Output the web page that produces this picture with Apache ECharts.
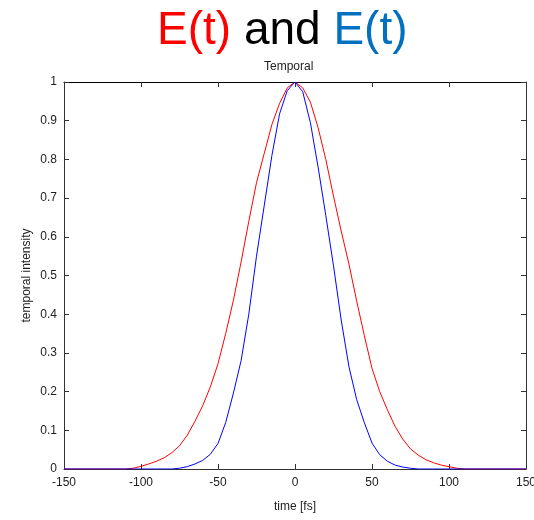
<!DOCTYPE html>
<html>
<head>
<meta charset="utf-8">
<script src="https://cdn.jsdelivr.net/npm/echarts@6/dist/echarts.min.js"></script>
<style>
  html, body { margin: 0; padding: 0; background: #fff; }
  #chart { width: 534px; height: 520px; }
</style>
</head>
<body>
<div id="chart"></div>
<script>
// Sample times in femtoseconds
const times = [
  -150, -145, -140, -135, -130, -125, -120, -115, -110, -105,
  -100, -95, -90, -85, -80, -75, -70, -65, -60, -55,
  -50, -45, -40, -35, -30, -25, -20, -15, -10, -5,
  0, 5, 10, 15, 20, 25, 30, 35, 40, 45,
  50, 55, 60, 65, 70, 75, 80, 85, 90, 95,
  100, 105, 110, 115, 120, 125, 130, 135, 140, 145, 150
];

// Normalised temporal intensity of the broader pulse (red)
const redIntensity = [
  0, 0, 0, 0, 0, 0, 0, 0, 0, 0.002,
  0.007, 0.013, 0.020, 0.029, 0.042, 0.060, 0.087, 0.123, 0.163, 0.212,
  0.272, 0.350, 0.436, 0.535, 0.640, 0.740, 0.815, 0.890, 0.945, 0.985,
  1.000, 0.985, 0.948, 0.882, 0.800, 0.705, 0.615, 0.530, 0.435, 0.345,
  0.260, 0.200, 0.153, 0.110, 0.077, 0.052, 0.036, 0.024, 0.016, 0.010,
  0.006, 0.002, 0, 0, 0, 0, 0, 0, 0, 0, 0
];

// Normalised temporal intensity of the narrower pulse (blue)
const blueIntensity = [
  0, 0, 0, 0, 0, 0, 0, 0, 0, 0,
  0, 0, 0, 0, 0, 0.002, 0.006, 0.013, 0.022, 0.038,
  0.066, 0.120, 0.196, 0.280, 0.400, 0.550, 0.680, 0.810, 0.918, 0.978,
  1.000, 0.975, 0.895, 0.780, 0.655, 0.525, 0.385, 0.265, 0.180, 0.120,
  0.067, 0.037, 0.020, 0.010, 0.005, 0.002, 0, 0, 0, 0,
  0, 0, 0, 0, 0, 0, 0, 0, 0, 0, 0
];

const xTicks = [-150, -100, -50, 0, 50, 100, 150];
const yTicks = [0, 0.1, 0.2, 0.3, 0.4, 0.5, 0.6, 0.7, 0.8, 0.9, 1];

const FONT = 'Liberation Sans, Arial, sans-serif';
const frameColor = '#333';

const pairs = (ys) => times.map((t, i) => [t, ys[i]]);

const chart = echarts.init(document.getElementById('chart'), null, { renderer: 'canvas' });

function frameAxis(extra) {
  return Object.assign({
    type: 'value',
    axisLine: { show: true, onZero: false, lineStyle: { color: frameColor, width: 1 } },
    axisTick: { show: true, inside: true, length: 5, lineStyle: { color: frameColor } },
    splitLine: { show: false },
    minorTick: { show: false }
  }, extra);
}

const xRange = {
  min: xTicks[0],
  max: xTicks[xTicks.length - 1],
  interval: xTicks[1] - xTicks[0]
};
const yRange = {
  min: yTicks[0],
  max: yTicks[yTicks.length - 1],
  interval: 0.1
};

chart.setOption({
  animation: false,
  backgroundColor: '#fff',
  title: [
    {
      text: '{r|E(t)} and {b|E(t)}',
      left: 152,
      top: 3,
      textStyle: {
        fontFamily: FONT,
        fontSize: 46,
        fontWeight: 'normal',
        color: '#000',
        rich: {
          r: { fontFamily: FONT, fontSize: 46, color: '#ff0000' },
          b: { fontFamily: FONT, fontSize: 46, color: '#0070c0' }
        }
      }
    },
    {
      text: 'Temporal',
      left: 259,
      top: 56,
      textStyle: { fontFamily: FONT, fontSize: 12, fontWeight: 'normal', color: '#222' }
    }
  ],
  grid: { left: 64, right: 8, top: 82, bottom: 51, containLabel: false, outerBoundsMode: 'none' },
  xAxis: [
    frameAxis(Object.assign({}, xRange, {
      position: 'bottom',
      name: 'time [fs]',
      nameLocation: 'middle',
      nameGap: 32,
      nameMoveOverlap: false,
      nameTextStyle: { fontFamily: FONT, fontSize: 12, color: '#222' },
      axisLabel: { fontFamily: FONT, fontSize: 12, color: '#222', margin: 8 }
    })),
    frameAxis(Object.assign({}, xRange, {
      position: 'top',
      axisLine: { show: true, onZero: false, lineStyle: { color: '#000', width: 1 } },
      axisLabel: { show: false }
    }))
  ],
  yAxis: [
    frameAxis(Object.assign({}, yRange, {
      position: 'left',
      name: 'temporal intensity',
      nameLocation: 'middle',
      nameGap: 31,
      nameMoveOverlap: false,
      nameTextStyle: { fontFamily: FONT, fontSize: 12, color: '#222' },
      axisLabel: {
        fontFamily: FONT, fontSize: 12, color: '#222', margin: 7,
        formatter: (v) => String(Math.round(v * 10) / 10)
      }
    })),
    frameAxis(Object.assign({}, yRange, {
      position: 'right',
      axisLabel: { show: false }
    }))
  ],
  series: [
    {
      type: 'line',
      name: 'E(t) red',
      data: pairs(redIntensity),
      showSymbol: false,
      smooth: false,
      lineStyle: { color: '#ff0000', width: 1 },
      z: 3
    },
    {
      type: 'line',
      name: 'E(t) blue',
      data: pairs(blueIntensity),
      showSymbol: false,
      smooth: false,
      lineStyle: { color: '#0000ff', width: 1 },
      z: 4
    }
  ]
});
</script>
</body>
</html>
